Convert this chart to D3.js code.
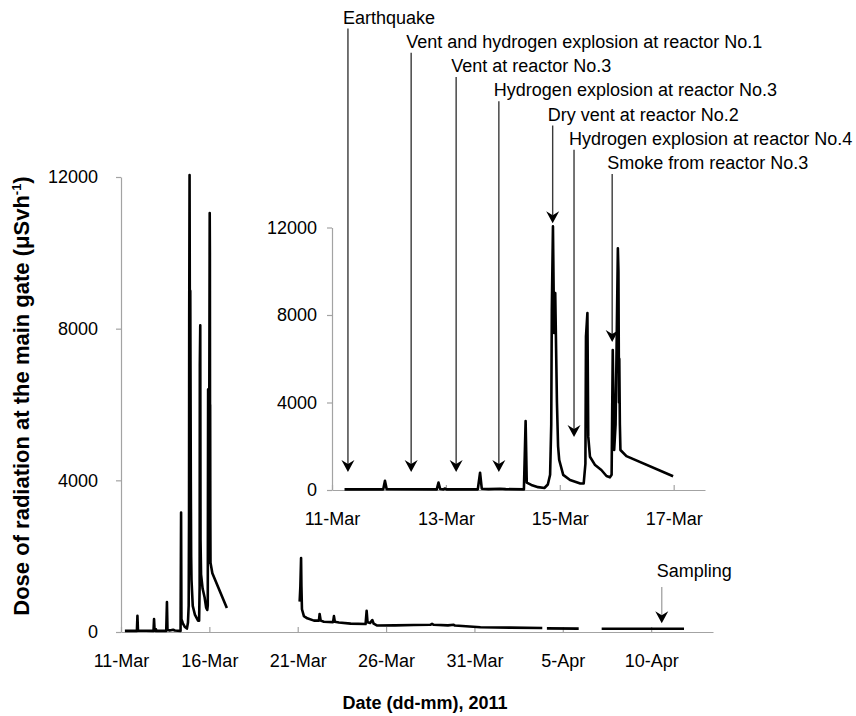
<!DOCTYPE html>
<html>
<head>
<meta charset="utf-8">
<script src="https://cdn.jsdelivr.net/npm/d3@7"></script>
<style>
    body { margin: 0; background: #fff; }
    svg text { font-family: "Liberation Sans", Arial, sans-serif; fill: #000; }
</style>
</head>
<body>
<svg width="856" height="716"></svg>
<script>
// Dose at the main gate, days after 11-Mar 00:00 (null = no data)
const doseDay = [
    0.22, 0.90, 0.93, 0.96, 1.84, 1.87, 1.90, 1.96, 1.98, 2.01,
    2.56, 2.60, 2.63, 2.75, 2.95, 3.05, 3.37, 3.40, 3.42, 3.50,
    3.62, 3.73, 3.79, 3.83, 3.85, 3.86, 3.88, 3.90, 3.92, 3.95,
    3.97, 3.99, 4.06, 4.18, 4.36, 4.42, 4.45, 4.46, 4.485, 4.50,
    4.53, 4.62, 4.73, 4.82, 4.88, 4.91, 4.93, 4.955, 4.98, 5.02,
    5.03, 5.04, 5.045, 5.055, 5.065, 5.17, 5.99, 6.5,
    10.11, 10.15, 10.19, 10.21, 10.24, 10.35, 10.54, 10.92, 11.2, 11.24,
    11.3, 11.48, 12.0, 12.05, 12.1, 12.33, 13.0, 13.84, 13.90, 13.95,
    14.1, 14.22, 14.3, 14.5, 15.5, 16.57, 17.5, 17.6, 17.7, 18.5,
    18.83, 18.9, 20.34, 22.0, 23.84, 24.0,
    24.1, 25.9, 26.5,
    27.2, 31.86
];
const doseValue = [
    30, 30, 425, 40, 30, 340, 45, 30, 70, 30,
    30, 790, 60, 40, 60, 40, 30, 3150, 340, 230,
    130, 90, 250, 700, 3000, 8230, 12050, 7180, 9000, 4000,
    2000, 1370, 690, 460, 300, 300, 1200, 7030, 8090, 2440,
    1520, 1140, 915, 640, 580, 700, 6400, 1830, 3000, 11050,
    10000, 4000, 6000, 3000, 1830, 1550, 630, null,
    800, 1200, 1950, 1200, 600, 420, 360, 300, 300, 475,
    300, 270, 260, 420, 270, 250, 220, 210, 560, 260,
    240, 315, 220, 170, 175, 185, 190, 215, 190, 175,
    190, 170, 125, 115, 105, null,
    95, 90, null,
    85, 85
];

const yTicks = [0, 4000, 8000, 12000];
const mainTickDay = [0, 5, 10, 15, 20, 25, 30];
const mainTickLabel = ['11-Mar', '16-Mar', '21-Mar', '26-Mar', '31-Mar', '5-Apr', '10-Apr'];
const insetTickDay = [0, 2, 4, 6];
const insetTickLabel = ['11-Mar', '13-Mar', '15-Mar', '17-Mar'];

// events marked on the inset: day, and dose where the arrow stops
const eventLabel = [
    'Earthquake',
    'Vent and hydrogen explosion at reactor No.1',
    'Vent at reactor No.3',
    'Hydrogen explosion at reactor No.3',
    'Dry vent at reactor No.2',
    'Hydrogen explosion at reactor No.4',
    'Smoke from reactor No.3'
];
const eventDay = [0.28, 1.39, 2.18, 2.93, 3.875, 4.25, 4.92];
const eventDose = [820, 820, 820, 820, 12200, 2420, 6770];

const samplingDay = 30.6;
const samplingDose = 230;

const svg = d3.select('svg');
const t0 = new Date(2011, 2, 11).getTime();
const toDate = d => new Date(t0 + d * 864e5);

const data = doseDay.map((d, i) => ({ date: toDate(d), day: d, value: doseValue[i] }));

const axisColor = '#a3a3a3';
const fontSize = 18;

// main chart scales
const x = d3.scaleTime()
    .domain([toDate(0), toDate(33.5)])
    .range([121, 713]);

const y = d3.scaleLinear()
    .domain([0, 12000])
    .range([632, 177]);

// inset scales
const xi = d3.scaleTime()
    .domain([toDate(0), toDate(6.55)])
    .range([332, 705]);

const yi = d3.scaleLinear()
    .domain([0, 12000])
    .range([490, 227.5]);

const styleAxis = g => {
    g.selectAll('path, line').attr('stroke', axisColor).attr('stroke-width', 1.2);
    g.selectAll('text')
        .attr('font-size', fontSize)
        .attr('font-family', '"Liberation Sans", Arial, sans-serif')
        .attr('fill', '#000');
};

const drawChart = (xs, ys, rows, labelPad) => {
    const ticksDay = xs === x ? mainTickDay : insetTickDay;
    const ticksLabel = xs === x ? mainTickLabel : insetTickLabel;

    svg.append('g')
        .attr('transform', `translate(${xs.range()[0]}, 0)`)
        .call(d3.axisLeft(ys)
            .tickValues(yTicks)
            .tickFormat(d3.format('d'))
            .tickSize(5)
            .tickSizeOuter(0)
            .tickPadding(labelPad))
        .call(styleAxis);

    svg.append('g')
        .attr('transform', `translate(0, ${ys.range()[0]})`)
        .call(d3.axisBottom(xs)
            .tickValues(ticksDay.map(toDate))
            .tickFormat((d, i) => ticksLabel[i])
            .tickSize(-5)
            .tickSizeOuter(0)
            .tickPadding(22))
        .call(styleAxis);

    const line = d3.line()
        .defined(d => d.value !== null)
        .x(d => xs(d.date))
        .y(d => ys(d.value));

    svg.append('path')
        .datum(rows)
        .attr('d', line)
        .attr('fill', 'none')
        .attr('stroke', '#000')
        .attr('stroke-width', 2.6)
        .attr('stroke-linejoin', 'round');
};

drawChart(x, y, data, 18);
drawChart(xi, yi, data.filter(d => d.day <= 6.5), 10);

// arrowhead pointing down, tip at (0,0)
const arrowHead = 'M0,0 L-6.5,-12 L0,-8 L6.5,-12 Z';

const drawArrow = (px, top, tip, color) => {
    svg.append('line')
        .attr('x1', px).attr('x2', px)
        .attr('y1', top).attr('y2', tip - 8)
        .attr('stroke', color)
        .attr('stroke-width', 1.4);
    svg.append('path')
        .attr('d', arrowHead)
        .attr('transform', `translate(${px}, ${tip})`)
        .attr('fill', '#000');
};

eventLabel.forEach((label, i) => {
    const px = xi(toDate(eventDay[i]));
    const baseline = 23.5 + i * 24.25;
    svg.append('text')
        .attr('x', px - 5)
        .attr('y', baseline)
        .attr('font-size', fontSize)
        .text(label);
    drawArrow(px, baseline + 5, yi(eventDose[i]), '#3a3a3a');
});

// sampling arrow on the main chart
const sx = x(toDate(samplingDay));
svg.append('text')
    .attr('x', sx - 5)
    .attr('y', 577)
    .attr('font-size', fontSize)
    .text('Sampling');
drawArrow(sx, 587, y(samplingDose), '#a8a8a8');

// axis titles
svg.append('text')
    .attr('x', 425)
    .attr('y', 709)
    .attr('text-anchor', 'middle')
    .attr('font-size', fontSize)
    .attr('font-weight', 'bold')
    .text('Date (dd-mm), 2011');

const yTitle = svg.append('text')
    .attr('transform', 'translate(29, 396) rotate(-90)')
    .attr('text-anchor', 'middle')
    .attr('font-size', 22)
    .attr('font-weight', 'bold');
yTitle.append('tspan').text('Dose of radiation at the main gate (μSvh');
yTitle.append('tspan').attr('dy', -8).attr('font-size', 13).text('-1');
yTitle.append('tspan').attr('dy', 8).text(')');
</script>
</body>
</html>
